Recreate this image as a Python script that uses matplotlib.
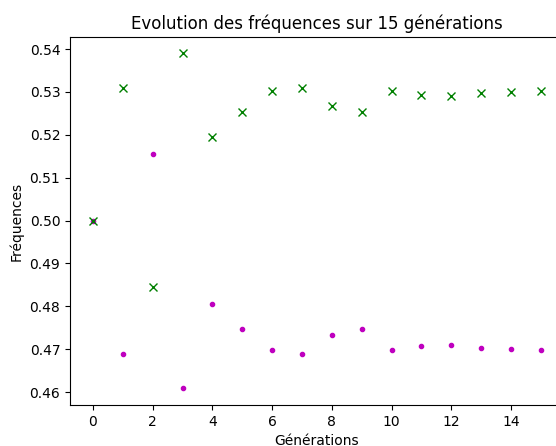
import numpy as np
import matplotlib
matplotlib.use("Agg")
import matplotlib.pyplot as plt

generations = list(range(16))
freq_a = [0.500, 0.531, 0.4845, 0.539, 0.5195, 0.5252, 0.5301, 0.5310, 0.5266, 0.5252,
          0.5301, 0.5293, 0.5291, 0.5297, 0.5299, 0.5301]
freq_b = [0.500, 0.4689, 0.5155, 0.4610, 0.4805, 0.4748, 0.4699, 0.4690, 0.4734, 0.4748,
          0.4699, 0.4707, 0.4709, 0.4703, 0.4701, 0.4699]

fig = plt.figure(figsize=(5.56, 4.46), dpi=100)
# the original is cropped on the right, so the axes run past the figure edge
ax = fig.add_axes([70 / 556, 41 / 446, 493 / 556, 368 / 446])
ax.plot(generations, freq_b, 'm.')
ax.plot(generations, freq_a, 'gx')
ax.set_xlim(-0.77, 15.74)
ax.set_ylim(0.4570, 0.5428)
ax.set_title('Evolution des fréquences sur 15 générations')
ax.set_xlabel('Générations')
ax.set_ylabel('Fréquences')
fig.savefig('out.png', dpi=100)
